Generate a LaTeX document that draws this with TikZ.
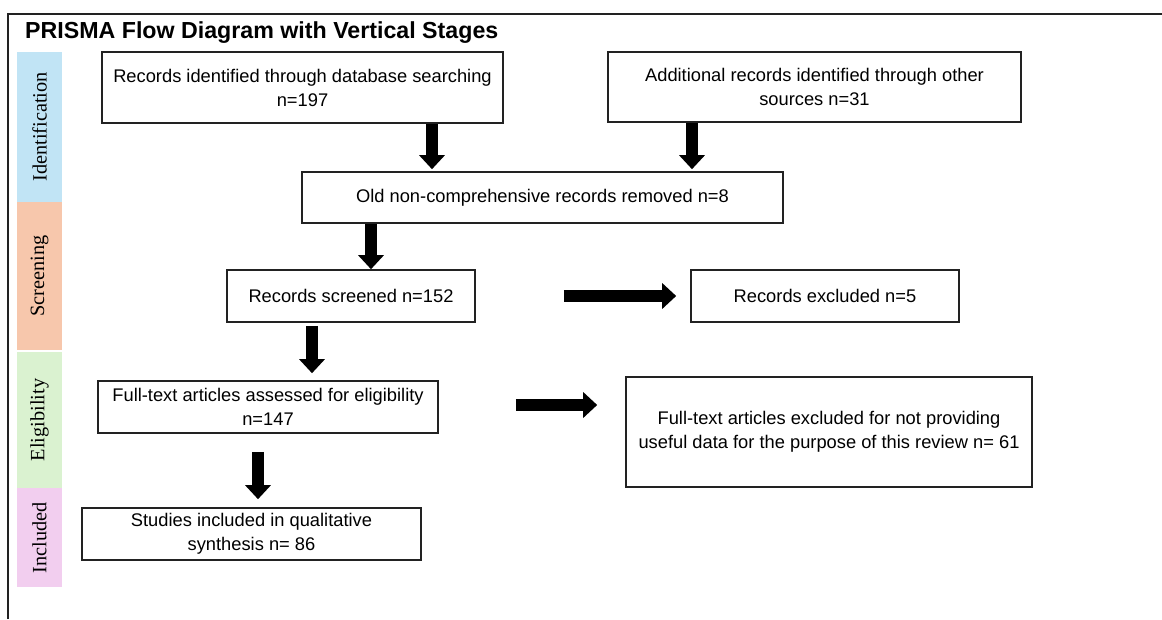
\documentclass[tikz,border=0pt]{standalone}
\usepackage{fontspec}
\setmainfont{Liberation Sans}
\newfontfamily\stagefont{Liberation Serif}
\usetikzlibrary{arrows.meta,calc}
\definecolor{idblue}{HTML}{C1E4F5}
\definecolor{scrpeach}{HTML}{F7C7AC}
\definecolor{eligreen}{HTML}{DAF2D0}
\definecolor{incpink}{HTML}{F2CEEF}
\definecolor{boxline}{HTML}{222222}
\tikzset{
  flowbox/.style={draw=boxline, line width=1.6pt, fill=white, align=center, inner sep=0pt,
    font=\fontsize{18.3}{24}\selectfont},
  stagebar/.style={rotate=90, inner sep=0pt, minimum height=45pt,
    font=\stagefont\fontsize{20.3}{22}\selectfont},
  blockarrow/.style={line width=12pt, -{Triangle[width=25pt,length=14pt]}},
}
\begin{document}
\begin{tikzpicture}[x=1pt,y=-1pt]
\useasboundingbox (0,0) rectangle (1162,619);
% frame
\draw[line width=1.8pt, draw=boxline] (8,619) -- (8,14) -- (1162,14);
% title
\node[anchor=west, inner sep=0pt, font=\bfseries\fontsize{23.2}{27}\selectfont] (title) at (25,33) {PRISMA Flow Diagram with Vertical Stages};
% stage bars
\node[stagebar, fill=idblue, minimum width=150pt] (sid) at (39.5,127) {Identification};
\node[stagebar, fill=scrpeach, minimum width=148pt] (sscr) at (39.5,276) {Screening};
\node[stagebar, fill=eligreen, minimum width=136pt] (selig) at (39.5,420) {Eligibility};
\node[stagebar, fill=incpink, minimum width=99pt] (sinc) at (39.5,537.5) {Included};
% boxes
\node[flowbox, minimum width=401pt, minimum height=71pt] (b1) at (302.5,87.5) {Records identified through database searching\\n=197};
\node[flowbox, minimum width=413pt, minimum height=70pt] (b2) at (814.5,87) {Additional records identified through other\\sources n=31};
\node[flowbox, minimum width=481pt, minimum height=51pt] (b3) at (542.5,197.5) {Old non-comprehensive records removed n=8};
\node[flowbox, minimum width=248pt, minimum height=52pt] (b4) at (351,296) {Records screened n=152};
\node[flowbox, minimum width=268pt, minimum height=52pt] (b5) at (825,296) {Records excluded n=5};
\node[flowbox, minimum width=340pt, minimum height=52pt] (b6) at (268,407) {Full-text articles assessed for eligibility\\n=147};
\node[flowbox, minimum width=406pt, minimum height=110pt] (b7) at (829,432) {Full-text articles excluded for not providing\\useful data for the purpose of this review n= 61};
\node[flowbox, minimum width=339pt, minimum height=52pt] (b8) at (251.5,534) {Studies included in qualitative\\synthesis n= 86};
% arrows
\draw[blockarrow, shorten >=2pt] ([xshift=129.5pt]b1.south) -- ([xshift=129.5pt]b1.south |- b3.north);
\draw[blockarrow, shorten >=2pt] ([xshift=-122.5pt]b2.south) -- ([xshift=-122.5pt]b2.south |- b3.north);
\draw[blockarrow] ([xshift=-171.5pt]b3.south) -- ([xshift=-171.5pt]b3.south |- b4.north);
\draw[blockarrow, shorten <=88pt, shorten >=14pt] (b4.east) -- (b5.west);
\draw[blockarrow, shorten <=3pt, shorten >=7pt] ([xshift=-39pt]b4.south) -- ([xshift=-39pt]b4.south |- b6.north);
\draw[blockarrow, shorten <=77pt, shorten >=28pt] ([yshift=2pt]b6.east) -- ([yshift=2pt]b6.east -| b7.west);
\draw[blockarrow, shorten <=18pt, shorten >=8pt] ([xshift=-10pt]b6.south) -- ([xshift=-10pt]b6.south |- b8.north);
\end{tikzpicture}
\end{document}
